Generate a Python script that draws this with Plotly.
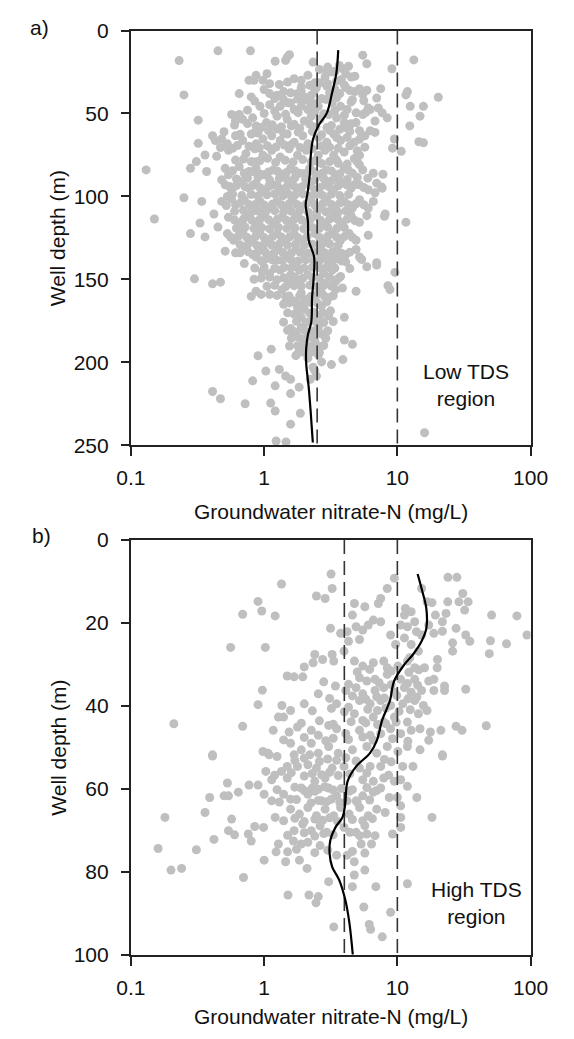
import math
import plotly.graph_objects as go

# ---------------- Panel a (Low TDS region) ----------------
a_nitrate = [
    0.45, 0.79, 0.23, 1.21, 1.49, 1.55, 1.45, 2.33, 5.5, 5.9, 13.3, 9.1, 0.25, 20.3, 11.9, 11.6, 12.5, 15.7,
    14.8, 12.4, 14.5, 15.7, 9.5, 9.2, 10.7, 0.32, 0.13, 0.25, 0.15, 0.34, 0.28, 0.31, 0.37, 0.32, 0.36, 0.44,
    0.51, 0.28, 0.33, 0.36, 0.42, 8.1, 8.0, 11.6, 7.8, 7.6, 6.8,
    0.3, 0.41, 0.47, 0.84, 0.97, 0.71, 9.6, 8.5, 8.8, 4.9, 4.0, 1.4, 1.5, 1.58, 4.0, 4.6, 2.8, 2.55, 0.9, 1.13,
    3.2, 3.9, 2.7, 1.03, 1.3, 0.82, 1.21, 1.45, 1.58, 2.47, 2.22, 0.41, 0.47, 0.72, 1.12, 1.21, 1.87, 1.58,
    1.58, 1.83, 1.23, 1.46, 16,
    1.05, 0.87, 0.77, 0.84, 0.98, 1.1, 1.68, 1.9, 2.13, 2.4, 2.95, 3.24, 3.67, 4.1, 4.5, 4.8, 3.8, 2.87,
    0.65, 0.8, 1.1, 1.25, 1.58, 1.78, 2.0, 2.26, 2.7, 3.4, 4.1, 4.8, 5.2, 5.9, 7.0, 7.5, 4.6, 2.95, 2.47, 1.9,
    0.93, 1.1, 1.32, 1.58, 1.68, 1.9, 2.13, 2.55, 3.24, 3.75, 4.2, 4.9, 6.25, 7.2, 7.7, 8.4, 6.05, 1.4, 1.78, 2.2,
    0.57, 0.65, 0.61, 0.69, 0.82, 0.87, 1.04, 1.25, 1.49, 1.68, 2.0, 2.26, 2.63, 3.05, 3.5, 3.99, 4.9, 6.8, 5.5,
    2.96, 4.1, 6.25, 5.2,
    0.41, 0.43, 0.48, 0.53, 0.61, 0.69, 0.8, 0.87, 0.98, 1.14, 1.32, 1.49, 1.68, 1.95, 2.13, 2.55, 2.95, 3.33,
    3.75, 4.2, 4.75, 5.7, 6.8, 0.87, 1.25,
    0.54, 0.63, 0.73, 0.85, 0.98, 1.14, 1.32, 1.54, 1.78, 2.07, 2.55, 2.87, 3.33, 3.99, 4.75, 5.7, 5.2, 0.61,
    0.87, 2.26, 3.6,
    0.65, 0.77, 0.87, 1.0, 1.17, 1.36, 1.58, 1.84, 2.2, 2.55, 2.95, 3.43, 3.99, 4.6, 5.5, 6.6, 5.2, 0.54, 0.48,
    0.51, 0.57, 0.67, 0.77, 0.87, 1.0, 1.17, 1.36, 1.58, 1.78, 2.07, 2.4, 2.87, 3.33, 3.87, 4.5, 5.2, 6.05, 7.0, 7.7,
    0.48, 0.53, 0.61, 0.71, 0.82, 0.93, 1.07, 1.25, 1.45, 1.63, 1.9, 2.26, 2.55, 2.95, 3.43, 3.99, 4.6, 5.2, 6.05, 6.6,
    0.54, 0.65, 0.75, 0.87, 1.0, 1.17, 1.36, 1.58, 1.78, 2.07, 2.47, 2.87, 3.33, 3.87, 4.5, 5.2, 5.9, 0.45,
    0.53, 0.59, 0.69, 0.8, 0.93, 1.07, 1.25, 1.45, 1.68, 1.95, 2.4, 2.8, 3.24, 3.75, 4.35, 4.9, 6.05,
    0.51, 0.61, 0.71, 0.82, 0.95, 1.1, 1.28, 1.49, 1.73, 2.0, 2.63, 3.05, 3.5, 4.1, 4.9, 5.4, 7.0,
    0.87, 1.04, 1.25, 1.49, 1.68, 2.7, 3.05, 3.5, 4.1, 5.2, 5.9, 7.0, 1.1, 1.32, 1.58, 1.84, 2.13, 2.8, 3.24,
    3.75, 1.25, 1.54, 1.78, 2.87, 3.43,
    0.87, 0.95, 1.1, 1.36, 1.54, 1.68, 1.9, 2.07, 2.7, 3.05, 3.43, 3.87, 1.4, 1.78, 2.0, 2.7, 3.15,
    1.68, 1.9, 2.07, 1.9, 1.73, 1.95, 1.78, 2.0, 1.73, 2.55, 2.8, 3.05, 2.55, 2.7, 2.4, 2.47, 2.13, 2.33, 2.4,
]
a_depth = [
    12.2, 12.2, 18.1, 18.5, 16, 14.6, 18, 19, 14.8, 20, 17.7, 23, 38.8, 40.2, 36.8, 38.8, 45.7, 45.7,
    51.6, 57.5, 67, 67.7, 65.4, 70.9, 72.8, 54, 84, 100.8, 113.6, 103, 83, 79, 85, 68, 75, 75.8,
    83, 122.4, 116, 124.4, 110.6, 110.6, 112, 115.5, 86.6, 94.3, 97.8,
    149.7, 152.7, 151.7, 150, 145.4, 140.5, 145.8, 153.8, 156.2, 157.2, 172.9, 175.8, 180.7, 179.7, 186.6, 189.2,
    189.9, 195.5, 196.1, 192.1, 201.4, 198.4, 199.8, 205.3, 204.3, 211.2, 214.2, 208.3, 210.3, 208.3, 210.3,
    217.6, 222, 225, 224.6, 229.4, 230.8, 237.3, 218.9, 215, 247.5, 248, 242.5,
    26, 27, 30, 30, 30, 32, 29, 30, 27, 31.5, 25, 25, 21, 26, 28, 27.5, 29.5, 28,
    38, 40, 38, 39, 37.5, 38, 40, 39, 41, 35.5, 34.3, 36.8, 35, 36, 40.7, 35, 41.7, 33.5, 34.3, 34.3,
    45.7, 44.7, 45.7, 43.7, 47.6, 45.7, 47.6, 45.7, 43.7, 45.7, 47.6, 49.6, 47.6, 46.7, 49.6, 52.6, 46.7, 41.7,
    41.3, 42.7,
    50.6, 50.6, 54.5, 53.5, 52.6, 57.5, 55.5, 51.6, 53.5, 56.5, 54.5, 51.6, 53.5, 50.6, 52.6, 55.5, 55.5, 54.5,
    50.6, 58.5, 58.5, 60.4, 60.4,
    63.4, 66.3, 65.4, 68.3, 63.4, 66.3, 62.4, 68.3, 65.4, 63.4, 66.3, 62.4, 67.3, 63.4, 68.3, 64.4, 67.3, 62.4,
    66.3, 64.4, 67.3, 63.4, 61.4, 60.4, 59.4,
    72.2, 69.3, 74.2, 71.3, 75.2, 72.2, 76.2, 71.3, 75.2, 72.2, 75.2, 72.2, 75.2, 73.2, 77.2, 70.3, 75.2, 78.1,
    79.1, 79.1, 80,
    82, 85, 83, 87, 84, 87, 83, 86, 83, 87, 84, 87, 83, 86, 84, 86, 81, 87, 90,
    93, 96, 91, 95, 92, 97, 93, 96, 91, 95, 92, 96, 93, 96, 92, 95, 93, 96, 92, 95,
    103, 100, 105, 102, 107, 103, 107, 103, 107, 102, 106, 103, 107, 102, 106, 103, 107, 102, 107, 103,
    112.6, 116.5, 111.6, 115.6, 111.6, 116.5, 112.6, 116.5, 111.6, 115.6, 111.6, 116.5, 112.6, 116.5, 111.6,
    115.6, 111.6, 118.5,
    122.4, 126.4, 121.5, 126.4, 122.4, 126.4, 122.4, 126.4, 122.4, 126.4, 122.4, 126.4, 122.4, 126.4, 122.4,
    126.4, 123.4,
    133, 134, 131, 135, 132, 136, 132, 136, 132, 135, 132, 136, 132, 135, 132, 138, 140,
    136.5, 137.5, 138.5, 136.5, 139.5, 136.5, 139.5, 137.5, 139.5, 136.5, 142.4, 141.4, 146.4, 144.4, 147.3,
    144.4, 147.3, 146.4, 144.4, 148.3, 150.3, 152.3, 150.3, 152.3, 151.3,
    157.2, 159.1, 159.1, 156.2, 160.1, 163.1, 158.2, 162.1, 158.2, 161.1, 156.2, 155.2, 165, 167, 168, 166, 169,
    171, 173, 176, 179, 182, 186, 190, 194, 196, 172, 176, 172, 179, 183, 187, 194, 197.5, 203, 205,
]

# dense core of panel a, row by row (nitrate values and their depths)
a_core_nitrate_rows = [
    [2.6, 3.0, 3.4, 3.9, 4.3],
    [1.3, 1.5, 2.2, 2.6, 3.0, 3.5, 4.0],
    [1.0, 1.4, 1.9, 2.4, 3.1, 3.7, 4.4, 5.5],
    [0.85, 1.2, 1.5, 2.0, 2.35, 2.9, 3.5, 4.5, 5.6],
    [0.75, 1.0, 1.2, 1.45, 1.8, 2.4, 2.8, 3.4, 4.0, 5.8],
    [0.6, 0.75, 0.95, 1.15, 1.35, 1.6, 1.85, 2.2, 2.45, 3.2, 3.7, 4.5],
    [0.5, 0.66, 0.9, 1.08, 1.4, 1.8, 2.3, 2.7, 3.1, 3.5, 4.4, 5.2],
    [0.47, 0.58, 0.77, 0.92, 1.06, 1.23, 1.42, 1.6, 1.86, 2.3, 2.7, 3.1, 3.6, 4.4, 5.0],
    [0.7, 0.8, 0.93, 1.06, 1.22, 1.44, 1.65, 1.95, 2.4, 2.7, 3.1, 3.5, 4.2, 5.0],
    [0.58, 0.71, 0.82, 0.93, 1.08, 1.26, 1.47, 1.7, 2.0, 2.35, 2.75, 3.2, 3.7, 4.3, 5.0, 6.0],
    [0.62, 0.75, 0.9, 1.1, 1.3, 1.5, 1.7, 2.05, 2.4, 2.8, 3.2, 3.6, 4.2],
    [0.55, 0.62, 0.72, 0.82, 0.93, 1.08, 1.26, 1.47, 1.68, 1.92, 2.23, 2.62, 3.05, 3.6, 4.2, 4.8, 5.6],
    [0.58, 0.68, 0.8, 0.9, 1.05, 1.2, 1.38, 1.52, 1.7, 1.95, 2.2, 2.45, 2.75, 3.2, 3.7, 4.3],
    [0.52, 0.57, 0.66, 0.77, 0.87, 1.0, 1.16, 1.35, 1.55, 1.76, 2.08, 2.4, 2.75, 3.2, 3.7, 4.3, 4.9, 5.6],
    [0.6, 0.7, 0.8, 0.9, 1.03, 1.2, 1.4, 1.6, 1.85, 2.15, 2.5, 2.9, 3.2, 3.6, 4.1],
    [0.6, 0.7, 0.81, 0.93, 1.08, 1.26, 1.47, 1.68, 1.92, 2.25, 2.65, 3.1, 3.6, 4.2, 4.8],
    [0.62, 0.72, 0.84, 0.96, 1.1, 1.28, 1.48, 1.7, 1.98, 2.3, 2.6, 3.0, 3.5, 4.0],
    [0.56, 0.64, 0.74, 0.86, 1.0, 1.16, 1.35, 1.56, 1.8, 2.1, 2.6, 3.0, 3.5, 4.0, 4.6],
    [0.66, 0.76, 0.88, 1.0, 1.14, 1.3, 1.5, 1.72, 2.0, 2.3, 2.7, 3.1, 3.6],
    [0.66, 0.76, 0.88, 1.02, 1.18, 1.38, 1.6, 1.86, 2.15, 2.45, 2.85, 3.25, 3.8, 4.4],
    [0.95, 1.15, 1.37, 1.58, 1.8, 2.05, 2.35, 2.65, 3.3, 3.8],
    [0.85, 1.0, 1.2, 1.42, 1.6, 1.75, 2.0, 2.3, 2.6, 2.95, 3.4, 4.4],
    [0.95, 1.1, 1.4, 1.7, 1.95, 2.3, 2.6, 3.1, 3.6],
    [1.05, 1.2, 1.45, 1.68, 1.9, 2.2, 2.5, 2.8, 3.2],
    [0.8, 1.25, 1.45, 1.85, 2.25, 2.45, 2.85, 3.3],
    [1.55, 1.7, 1.95, 2.2, 2.5, 2.95],
    [1.5, 1.8, 2.2, 2.35, 2.75],
    [1.75, 2.25, 2.4, 2.65, 3.3],
    [1.65, 2.0, 2.25, 2.4, 3.0],
    [1.6, 1.8, 2.1, 2.3, 2.9],
    [1.55, 1.9, 2.2, 2.5],
    [1.8, 2.3, 2.6],
]
a_core_depth_rows = [
    [23.5, 22, 24.5, 23, 21.5],
    [32.5, 31, 33, 31.5, 32, 30.5, 32.8],
    [35.5, 36.8, 37, 35.8, 37.5, 38, 36.2, 38.5],
    [42.5, 41, 43.5, 42, 44, 41.5, 40.5, 43, 42.3],
    [48, 50, 48.5, 50.5, 49.5, 48.8, 50.2, 48.2, 51, 49.3],
    [57, 56, 58.5, 56.8, 58, 57.5, 59, 56.5, 58.2, 57.2, 59.5, 56.2],
    [61, 62.5, 61.8, 60.5, 62, 61.2, 60.8, 62.8, 60.2, 64.5, 60.8, 65.5],
    [70.5, 71, 69.8, 70.8, 69.5, 70.2, 69, 68.8, 70.5, 71.2, 69.6, 70.3, 71, 69.5, 72.5],
    [77.5, 79, 78.5, 77, 79.5, 78.2, 79.2, 77.8, 78.5, 80.2, 79, 78.2, 80.5, 79.2],
    [84.5, 86, 85, 86.5, 85.2, 84.8, 85.6, 84.5, 86.2, 85, 85.8, 84.6, 86.3, 84.2, 88.5, 89],
    [89.5, 89, 88.5, 90, 89.2, 90.2, 88.8, 89.6, 90, 89.2, 90.5, 89, 89.8],
    [94, 93.5, 94.2, 93.4, 94.8, 94, 93.6, 94.5, 93.8, 94.2, 93.5, 94.6, 94.1, 93.6, 93.2, 92.8, 94.6],
    [98.5, 99.5, 98.8, 99.8, 99, 98.4, 99.6, 98.6, 99.2, 98.5, 99.8, 98.7, 99.4, 98.6, 99.5, 98.8],
    [105.5, 101.5, 104, 104.8, 104.5, 105.2, 104.6, 105, 104.2, 104.8, 104.4, 105.2, 104.5, 104.8, 104, 105, 104.4, 105],
    [109, 108.5, 109.5, 108.8, 109.2, 108.6, 109.4, 109, 108.6, 109.6, 108.8, 109.2, 108.5, 109.5, 108.7],
    [114.2, 113.6, 114.4, 113.8, 114, 113.6, 114.4, 113.8, 114.2, 113.5, 114.3, 113.7, 114.1, 113.6, 114.5],
    [119.2, 118.6, 119.4, 118.8, 119.5, 118.7, 119.3, 118.9, 119.6, 118.8, 119.2, 118.6, 119.4, 118.8],
    [124.5, 124, 124.6, 124.2, 124.8, 124.1, 124.5, 124.3, 124.9, 124.2, 124.6, 124, 124.5, 124.2, 124.7],
    [129.2, 128.6, 129.5, 128.8, 129.3, 128.7, 129.4, 128.9, 129.6, 128.8, 129.2, 128.6, 129.4],
    [134, 133.4, 134.2, 133.6, 134.4, 133.8, 134.1, 133.5, 134.3, 133.7, 134, 133.5, 134.2, 133.6],
    [138.8, 138.2, 138.6, 138.1, 138.9, 138.3, 138.7, 138.2, 138.6, 138.9],
    [143.2, 142.6, 143.4, 142.8, 143.1, 142.5, 143.3, 142.7, 143, 142.6, 143.2, 143.5],
    [149.3, 148.7, 149.1, 148.6, 149.4, 148.8, 149.2, 148.7, 149.5],
    [154.2, 153.6, 154.4, 153.8, 154.1, 153.5, 154.3, 153.7, 154],
    [160.3, 159.7, 160.5, 159.8, 160.2, 159.6, 160.4, 159.9],
    [164.2, 163.6, 164.4, 163.8, 164.1, 163.5],
    [170.2, 169.6, 170.4, 169.8, 170.1],
    [175.3, 174.7, 175.2, 174.6, 175.4],
    [181.2, 180.6, 181.4, 180.8, 181],
    [185.4, 184.8, 185.2, 184.6, 185.5],
    [190.2, 189.6, 190.4, 189.8],
    [194.3, 193.7, 194.1],
]

a_trend_nitrate = [3.6, 3.48, 3.23, 2.96, 2.55, 2.33, 2.24, 2.2, 2.11, 2.05, 2.13, 2.16, 2.37, 2.35, 2.29,
                   2.26, 2.13, 2.07, 2.07, 2.16, 2.24, 2.32]
a_trend_depth = [11.8, 26, 37.8, 49.6, 57.5, 65.4, 75.2, 87, 98.8, 104.7, 114.6, 126.4, 136.5, 150, 161,
                 175.6, 183.5, 191.4, 201, 215, 230.8, 248.4]
a_limits = [2.5, 10]

# ---------------- Panel b (High TDS region) ----------------
b_nitrate = [
    3.18, 3.24, 2.47, 2.87, 1.35, 0.9, 0.96, 0.69, 1.21, 0.56, 1.02, 9.5, 8.4, 7.5, 7.2, 4.76, 5.7, 4.6, 24, 28,
    15.2, 16.7, 31, 29, 34, 32, 23.9, 18.2, 51, 79, 94, 50, 66, 49, 32.6, 35, 26, 26, 27.6, 21.8, 18.8,
    11.3, 13.5, 19.3, 21.8, 12.7, 11.5, 23.2, 10.6, 11.9, 15.2, 17.2, 13.9, 7.5, 6.6, 6.05, 5.5, 4.9, 4.2, 3.75,
    3.15, 8.9, 9.7, 4.3, 5.2, 12.7, 14.4, 12.4, 11.3, 3.98, 3.24, 2.4, 2.75, 2.33, 2.0, 3.33,
    4.76, 5.5, 6.6, 7.9, 8.4, 10.1, 11.9, 13.5, 16, 19.9, 20.0, 1.49, 1.68, 1.95, 5.2, 5.9, 6.8, 8.4, 10.6, 13.5,
    17.2, 18.8, 3.43, 4.1, 4.9, 5.5, 6.8, 7.9, 9.5, 11.3, 12.7, 15.2, 18.8, 22.6, 22.6, 32.6, 2.55, 0.97,
    0.9, 1.36, 1.58, 2.0, 1.4, 1.28, 3.5, 4.3, 5.2, 6.25, 7.5, 8.9, 10.98, 13.5, 15.7, 16.7, 4.76, 5.5, 6.6, 7.9,
    9.5, 11.9, 14.4, 0.21, 0.69, 1.17, 1.54, 1.78, 2.26, 2.55, 3.05, 3.5, 4.1, 5.2, 6.25, 7.5, 8.9, 10.6, 12.7,
    14.8, 17.7, 21.2, 27.6, 30.6, 46.5,
    0.98, 1.07, 1.25, 0.41, 1.58, 1.9, 2.26, 2.55, 3.05, 3.6, 4.6, 5.9, 7.0, 8.4, 10.1, 11.9, 14.8, 17.2, 21.8,
    0.41, 1.09, 1.68, 2.2, 21.8, 1.03, 1.35, 1.49, 1.78, 2.13, 2.47, 1.14, 1.49, 2.4, 2.87, 3.24, 3.98, 5.2, 6.25,
    7.5, 10.98, 13.1, 5.5, 6.6, 7.9, 9.5, 10.6, 11.9, 0.53, 0.77, 0.9,
    0.39, 0.5, 0.54, 0.64, 1.0, 1.14, 1.4, 1.58, 1.9, 2.13, 2.4, 2.7, 3.05, 3.5, 4.35, 4.9, 5.5, 6.6, 7.5, 8.7,
    10, 14.0,
    0.36, 0.18, 0.57, 1.21, 1.58, 1.84, 2.13, 2.47, 2.87, 3.33, 3.75, 4.35, 5.2, 6.05, 7.0, 8.1, 10.6, 10.6, 18.2,
    0.54, 0.6, 0.42, 0.76, 0.85, 0.99, 0.8, 1.68, 1.95, 2.26, 2.63, 2.95, 3.98, 4.9, 5.9, 6.8, 5.7, 9.2, 10.6,
    0.16, 0.31, 1.28, 1.23, 1.45, 1.66, 1.9, 2.13, 2.63, 5.35, 6.4, 5.7, 1.0, 1.84, 2.1, 3.5, 4.2, 4.75, 5.7,
    0.2, 0.24, 0.7, 3.05, 4.75, 4.6, 6.9, 11.9, 1.51, 2.17, 2.55, 2.45, 5.6, 8.9, 3.33, 6.15, 6.3, 7.7,
]
b_depth = [
    8.2, 11.7, 13.5, 14.1, 10.6, 14.8, 17.1, 17.9, 18.3, 25.9, 25.9, 9.2, 11.7, 14.1, 15.3, 15.3, 16.1, 18.1, 9, 9,
    11.7, 14.9, 12.9, 14.9, 14.9, 16.9, 14.9, 15.1, 18.1, 18.3, 22.9, 24.3, 25, 27.4, 22.9, 24.4, 24.8, 26.8,
    21.3, 22, 22.5,
    18.1, 19.7, 18.1, 19.7, 17.3, 16.5, 17.7, 20.5, 20.9, 22.9, 20.5, 22.1, 19.7, 19.3, 20.5, 21.7, 20.9, 22.1,
    22.5, 21.3, 22.9, 25.2, 24.4, 24, 25.2, 26.8, 28.4, 23.6, 26.8, 27.6, 27.6, 28.8, 29.6, 30.6, 29.2,
    29.2, 30.4, 29.6, 29.2, 30.8, 30.4, 29.2, 30.8, 30.8, 30.8, 28.8, 32.8, 33, 33, 33.2, 34, 33.6, 32.4, 33.6,
    33.6, 34, 33.6, 35.2, 36.3, 35.6, 37.1, 36.3, 35.6, 36.7, 35.6, 36.7, 36.3, 36.3, 35.2, 36.3, 36, 37.1, 36.2,
    39.7, 39.9, 41.1, 39.5, 42.7, 42.7, 39.5, 40.3, 38.7, 39.5, 38.7, 39.9, 39.5, 38.7, 39.9, 41.1, 41.9, 43.5,
    42.7, 43.9, 42.7, 43.9, 41.9, 44.3, 44.9, 45.9, 46.3, 45.1, 45.9, 47.1, 44.7, 45.5, 46.7, 45.9, 47.1, 46.7,
    45.5, 46.7, 45.9, 45.5, 46.3, 45.9, 44.9, 45.9, 44.8,
    51, 51.4, 52.2, 52.1, 49, 50.6, 49, 51.4, 49.8, 51.4, 50.6, 49.8, 51.4, 49.8, 51, 49.8, 50.6, 48.3, 52.1,
    51.8, 51.8, 51.8, 51.8, 51.8, 55.8, 55.8, 54.6, 54.6, 54.2, 55, 57.8, 57.4, 58.2, 57.4, 55, 54.6, 55, 54.6,
    54.6, 54.6, 54.6, 57.8, 58.2, 57.4, 58.2, 57.8, 59.4, 58.6, 59.1, 59.1,
    62.1, 61.7, 61.7, 60.8, 61.3, 62.9, 61.3, 62.5, 59.8, 61.3, 60.6, 62.9, 59.8, 61.7, 60.6, 62.9, 61.7, 60.8,
    59.8, 62.1, 62.1, 62.1,
    65.7, 66.9, 67.3, 66.9, 64.9, 66.1, 64.5, 66.5, 64.9, 66.5, 64.5, 66.1, 64.5, 66.5, 64.9, 65.7, 64.1, 66.9, 66.9,
    70.1, 71.1, 72.2, 70.9, 69.1, 69.3, 72.6, 70.1, 68.5, 70.1, 68.9, 70.5, 69.3, 70.5, 70.9, 71.3, 68.9, 70.9, 69.3,
    74.4, 74.7, 73.3, 75.2, 77.6, 72.6, 73.3, 72.9, 73.7, 73.3, 73.3, 75.5, 77.2, 77.2, 79.2, 76, 76, 77.6, 79.6,
    79.6, 79.2, 81.4, 82.4, 80.8, 83.6, 83.6, 82.9, 85.6, 85.6, 86, 87.5, 88.5, 89.8, 93.3, 92.7, 93.9, 95.7,
]

b_core_nitrate_rows = [
    [5.0, 6.2, 9.0, 12.2, 14.5],
    [2.8, 4.3, 7.3, 9.0, 11.9, 14.2],
    [3.1, 4.6, 5.8, 7.0, 8.0, 9.9, 12.0, 14.0],
    [2.3, 3.2, 4.0, 6.0, 7.1, 8.2, 10.3, 12.5],
    [1.9, 2.6, 3.3, 4.5, 5.8, 7.1, 8.2, 9.8],
    [1.4, 2.0, 2.9, 3.3, 4.3, 5.5, 6.6, 9.2, 12.0],
    [1.7, 2.0, 2.6, 3.0, 3.5, 4.1, 4.9, 8.0, 9.0],
    [1.2, 1.6, 2.0, 2.3, 2.7, 3.1, 3.6, 4.4, 5.9, 8.6],
    [1.25, 1.7, 2.0, 2.3, 2.55, 2.85, 3.3, 3.8, 4.6, 5.9, 7.0],
    [1.3, 1.75, 2.25, 2.55, 2.95, 3.2, 3.7, 4.2, 5.0, 6.2],
    [1.4, 1.7, 2.0, 2.4, 2.75, 3.1, 3.55, 4.6, 5.5, 6.5],
    [1.5, 2.0, 2.4, 2.8, 3.3, 4.4, 5.2],
    [1.5, 1.75, 2.4, 3.0, 4.6],
]
b_core_depth_rows = [
    [31.8, 31.2, 31.6, 31.9, 31.3],
    [34.2, 34.8, 34.4, 34.9, 34.6, 35],
    [38.2, 37.6, 38.4, 37.8, 38.1, 37.5, 38.3, 37.9],
    [41.2, 40.6, 41.4, 40.8, 41.1, 40.5, 41.3, 40.9],
    [44.2, 43.6, 44.4, 43.8, 44.1, 44.5, 44.3, 43.9],
    [48.2, 47.6, 48.4, 47.8, 48.1, 47.5, 48.3, 47.9, 48.5],
    [53.2, 52.6, 53.4, 52.8, 53.1, 52.5, 53.3, 52.9, 53.5],
    [56.7, 56.1, 56.9, 56.3, 56.6, 56, 56.8, 56.4, 56.2, 56.7],
    [60.2, 59.6, 60.4, 59.8, 60.1, 59.5, 60.3, 59.9, 60.2, 59.7, 60.4],
    [63.2, 62.6, 63.4, 62.8, 63.1, 62.5, 63.3, 62.9, 63.2, 62.7],
    [67.7, 67.1, 67.9, 67.3, 67.6, 67, 67.8, 67.4, 67.7, 67.2],
    [71.2, 70.6, 71.4, 70.8, 71.1, 70.5, 71.3],
    [75.2, 74.6, 75.4, 74.8, 75.1],
]

b_trend_nitrate = [14.2, 15.2, 16.5, 16.5, 15.2, 13.1, 11.3, 9.46, 8.8, 7.68, 7.02, 6.23, 4.91, 4.23, 4.06,
                   3.87, 3.43, 3.14, 3.1, 3.24, 3.65, 4.06, 4.36, 4.63]
b_trend_depth = [8.2, 11.7, 16.5, 21.3, 24.4, 27.6, 30, 34, 38.7, 43.5, 48.3, 51.4, 54.6, 58.2, 63.7,
                 66.9, 69.3, 72.4, 75.6, 78.8, 81.9, 86.7, 92.2, 100]
b_limits = [4, 10]

x_ticks = [0.1, 1, 10, 100]
x_ticklabels = ["0.1", "1", "10", "100"]
a_yticks = [0, 50, 100, 150, 200, 250]
b_yticks = [0, 20, 40, 60, 80, 100]


def flatten_rows(xrows, yrows):
    xs, ys = [], []
    for xr, yr in zip(xrows, yrows):
        n = min(len(xr), len(yr))
        xs.extend(xr[:n])
        ys.extend(yr[:n])
    return xs, ys


a_cx, a_cy = flatten_rows(a_core_nitrate_rows, a_core_depth_rows)
b_cx, b_cy = flatten_rows(b_core_nitrate_rows, b_core_depth_rows)

FONT = "Arial, 'Liberation Sans', sans-serif"
DOT = "#bfbfbf"
AX = "#222222"
W, H = 574, 1039

fig = go.Figure()

panels = [
    ("x", "y", a_nitrate + a_cx, a_depth + a_cy, a_trend_nitrate, a_trend_depth, a_limits, 250),
    ("x2", "y2", b_nitrate + b_cx, b_depth + b_cy, b_trend_nitrate, b_trend_depth, b_limits, 100),
]
for xa, ya, xs, ys, tx, ty, lims, ymax in panels:
    fig.add_trace(go.Scatter(x=xs, y=ys, mode="markers", xaxis=xa, yaxis=ya,
                             marker=dict(size=9, color=DOT, line=dict(width=0)),
                             showlegend=False, hoverinfo="skip"))
    for v in lims:
        fig.add_trace(go.Scatter(x=[v, v], y=[0, ymax], mode="lines", xaxis=xa, yaxis=ya,
                                 line=dict(color="#333333", width=1.6, dash="14px,7px"),
                                 showlegend=False, hoverinfo="skip"))
    fig.add_trace(go.Scatter(x=tx, y=ty, mode="lines", xaxis=xa, yaxis=ya,
                             line=dict(color="black", width=2.2, shape="spline", smoothing=1.0),
                             showlegend=False, hoverinfo="skip"))

xdom = [123 / W, 547 / W]
ya_dom = [1 - 443 / H, 1 - 19 / H]
yb_dom = [1 - 964 / H, 1 - 540 / H]

xcommon = dict(type="log", range=[-1, 2], tickvals=x_ticks, ticktext=x_ticklabels,
               showgrid=False, zeroline=False, showline=True, linecolor=AX, linewidth=2,
               mirror=True, ticks="outside", ticklen=9, tickwidth=1.6, tickcolor=AX,
               tickfont=dict(family=FONT, size=21, color="#111111"), ticklabelstandoff=4)
ycommon = dict(showgrid=False, zeroline=False, showline=True, linecolor=AX, linewidth=2,
               mirror=True, ticks="outside", ticklen=8, tickwidth=1.6, tickcolor=AX,
               tickfont=dict(family=FONT, size=21, color="#111111"), ticklabelstandoff=8)

fig.update_layout(
    width=W, height=H, margin=dict(l=0, r=0, t=0, b=0),
    paper_bgcolor="white", plot_bgcolor="white",
    xaxis=dict(domain=xdom, anchor="y", **xcommon),
    yaxis=dict(domain=ya_dom, anchor="x", range=[250, 0], tickvals=a_yticks, **ycommon),
    xaxis2=dict(domain=xdom, anchor="y2", **xcommon),
    yaxis2=dict(domain=yb_dom, anchor="x2", range=[100, 0], tickvals=b_yticks, **ycommon),
)

tfont = dict(family=FONT, size=21, color="#111111")
common_ann = dict(showarrow=False, font=tfont, xanchor="center", yanchor="middle")
ann = [
    dict(text="a)", x=26 / W, y=1 - 16 / H, xref="paper", yref="paper", **common_ann),
    dict(text="b)", x=28 / W, y=1 - 535 / H, xref="paper", yref="paper", **common_ann),
    dict(text="Groundwater nitrate-N (mg/L)", x=335 / W, y=1 - 511 / H, xref="paper", yref="paper",
         **common_ann),
    dict(text="Groundwater nitrate-N (mg/L)", x=335 / W, y=1 - 1027 / H, xref="paper", yref="paper",
         **common_ann),
    dict(text="Well depth (m)", x=46 / W, y=1 - 231 / H, xref="paper", yref="paper", textangle=-90,
         **common_ann),
    dict(text="Well depth (m)", x=46 / W, y=1 - 752 / H, xref="paper", yref="paper", textangle=-90,
         **common_ann),
    dict(text="Low TDS<br>region", x=math.log10(33), y=214, xref="x", yref="y", align="center",
         **common_ann),
    dict(text="High TDS<br>region", x=math.log10(39), y=87.5, xref="x2", yref="y2", align="center",
         **common_ann),
]
fig.update_layout(annotations=ann)

fig.write_html("out.html")
